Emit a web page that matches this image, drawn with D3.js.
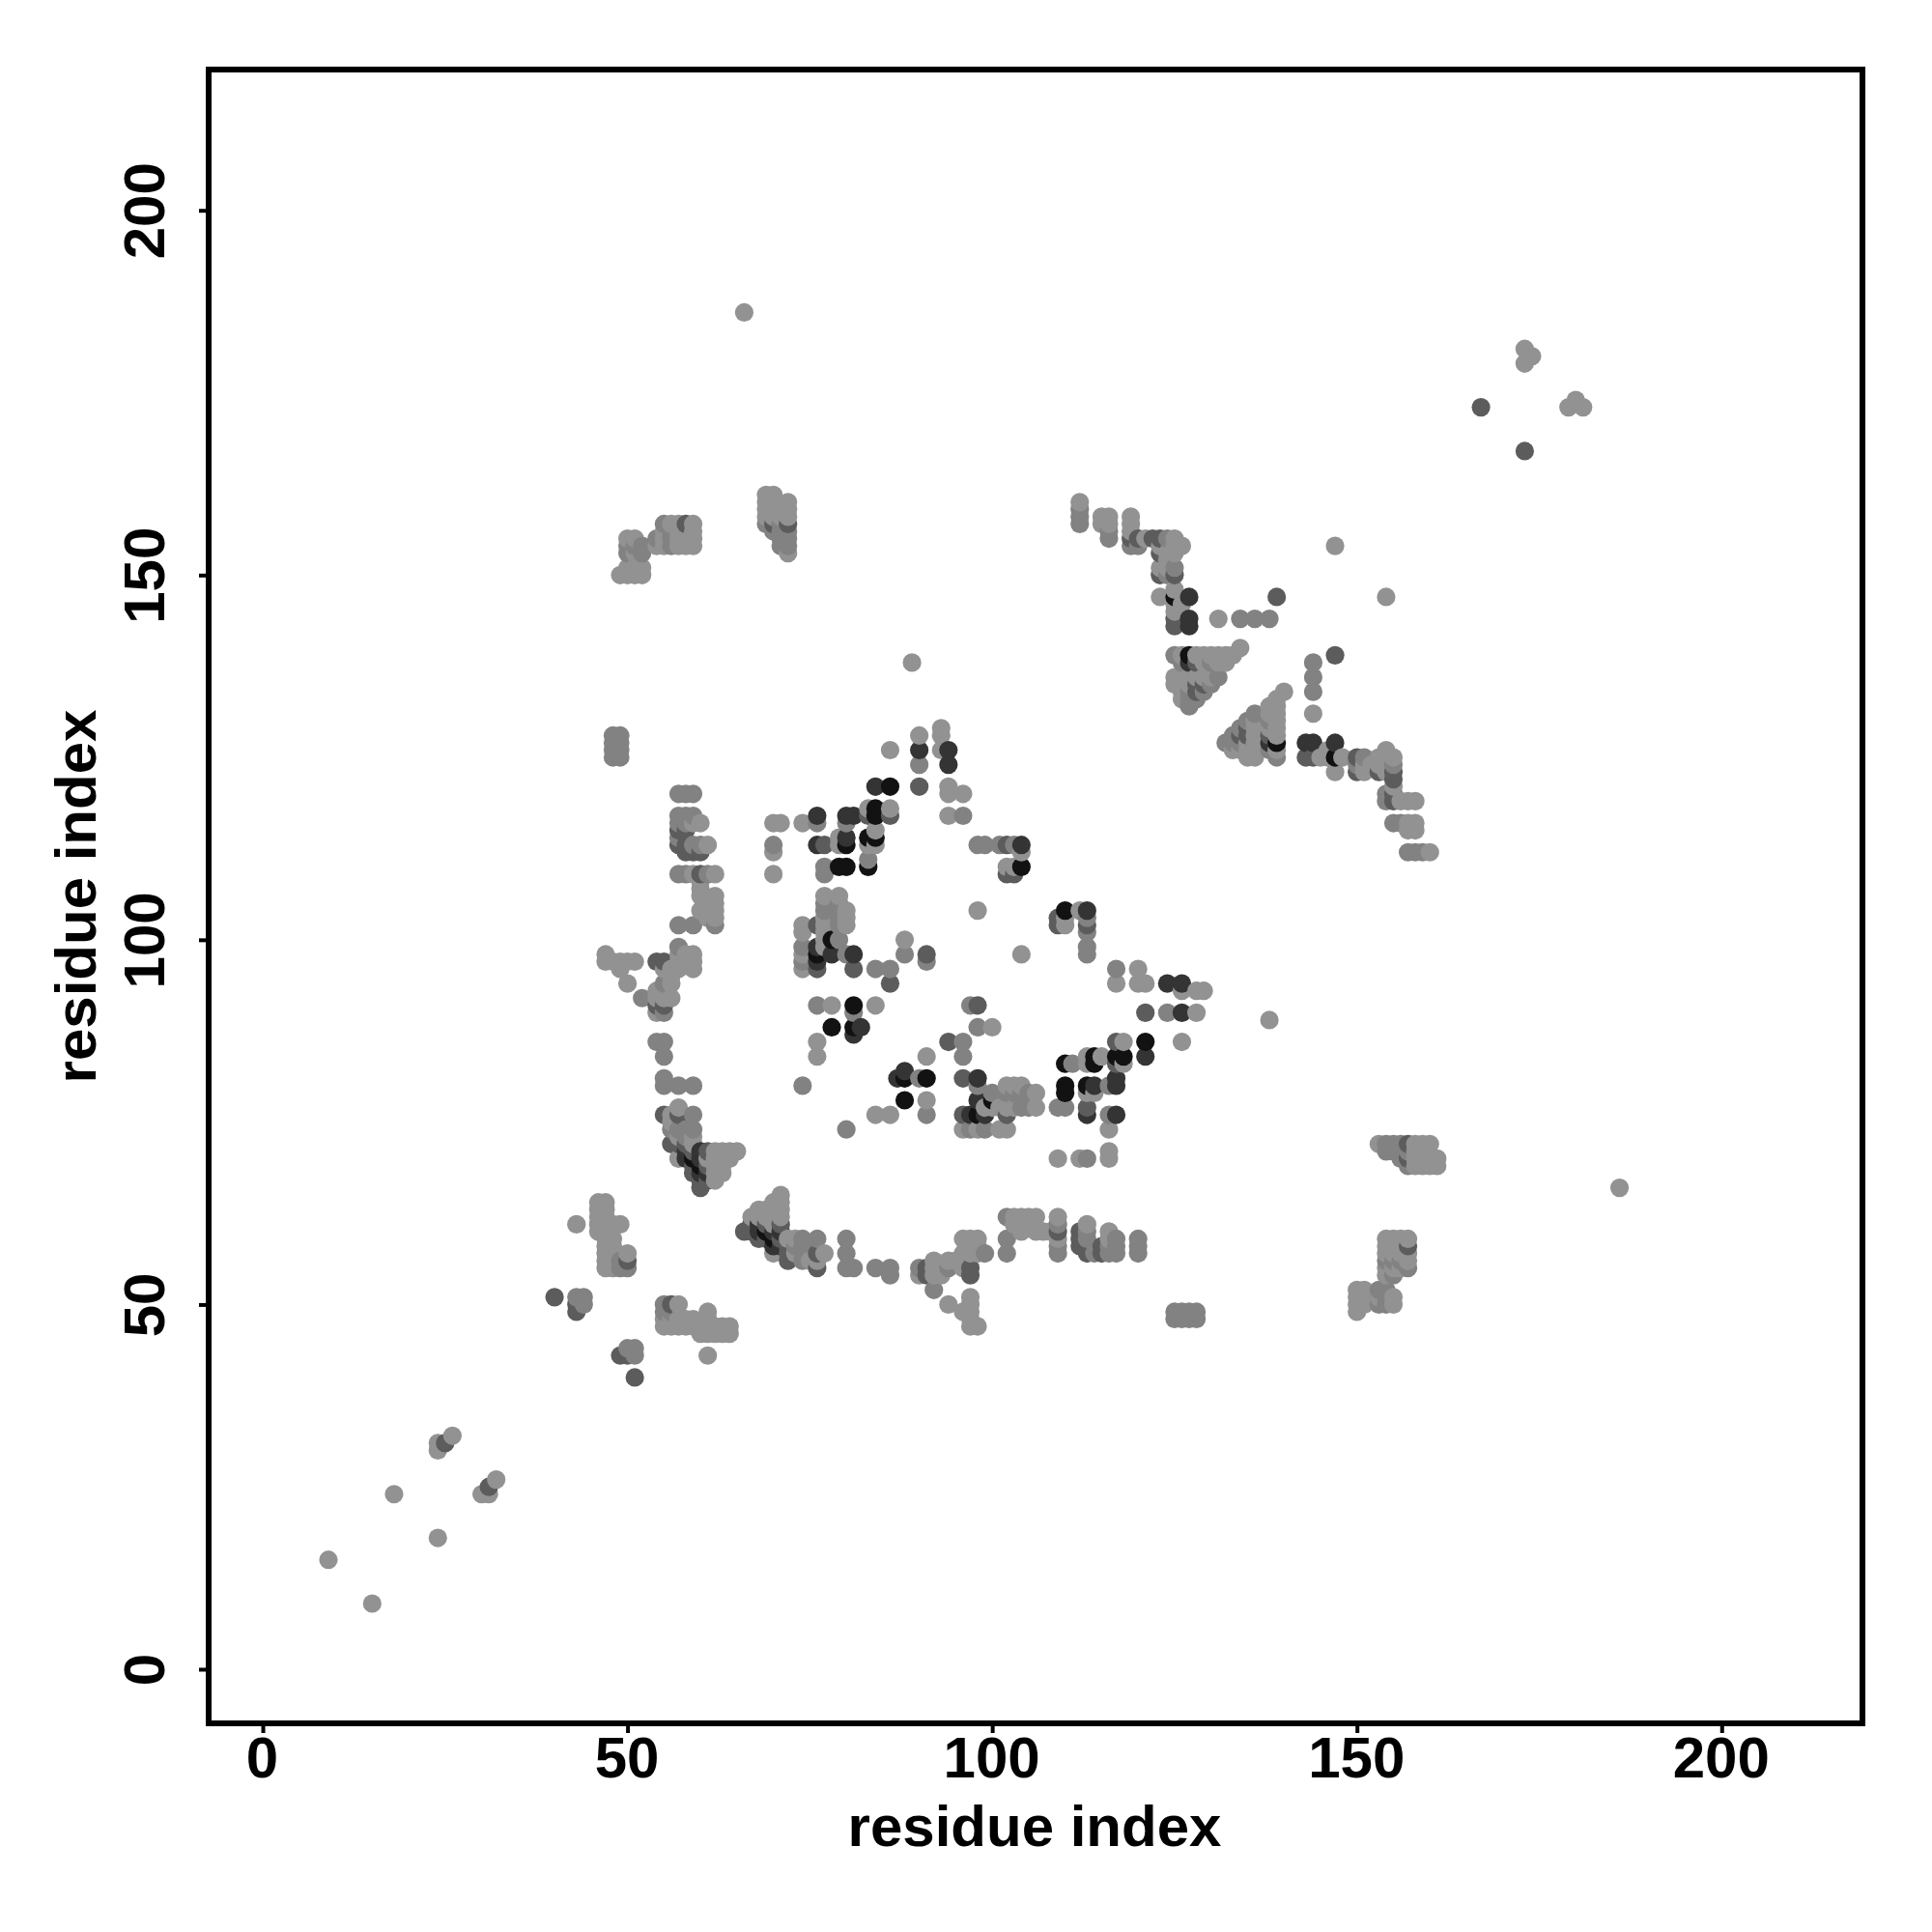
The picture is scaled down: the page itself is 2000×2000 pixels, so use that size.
<!DOCTYPE html>
<html><head><meta charset="utf-8">
<script src="https://cdn.jsdelivr.net/npm/d3@7/dist/d3.min.js"></script>
<style>html,body{margin:0;background:#fff}svg{display:block}text{font-family:"Liberation Sans",Arial,sans-serif;font-weight:bold;fill:#000}</style>
</head><body><svg id="c" width="2000" height="2000"></svg>
<script>
const tickValues=[0,50,100,150,200];
const axisTitle="residue index";
const domain=[-7.42,219.3];
const contactsBlack=[[86,121],[84,118],[84,117],[80,113],[83,114],[84,114],[83,110],[79,110],[80,110],[104,110],[81,91],[81,88],[78,88],[76,98],[78,100],[110,80],[110,79],[114,84],[114,83],[113,80],[117,84],[118,84],[121,86],[91,81],[60,69],[59,70],[125,147],[127,139],[139,127]];
const contactsVeryDark=[[84,121],[80,117],[81,117],[90,126],[94,126],[94,124],[104,113],[80,114],[78,98],[76,99],[81,98],[114,80],[117,81],[117,80],[121,84],[124,94],[126,94],[126,90],[110,83],[98,81],[98,78],[98,76],[99,76],[97,76],[113,76],[117,76],[82,88],[81,87],[88,82],[87,81],[143,127],[144,127],[147,127],[127,144],[127,143],[138,127],[60,70],[58,70],[60,71],[61,68],[60,68],[58,71]];
const contactsDark=[[76,117],[76,113],[77,113],[86,117],[83,117],[90,121],[102,113],[103,109],[102,109],[76,102],[76,96],[81,96],[86,94],[91,98],[94,86],[96,81],[117,86],[109,102],[113,102],[157,58],[72,157],[58,157],[157,70],[157,72],[123,155],[120,155],[123,150],[125,150],[127,147],[139,147],[147,139],[150,125],[150,123],[155,122],[155,120],[155,119],[143,125],[144,125],[127,138],[128,138],[128,135],[129,135],[128,134],[54,91],[55,91],[57,76],[56,72],[57,72],[58,72],[59,71],[61,71],[60,67],[61,69],[60,66],[67,61],[67,60],[68,60],[68,59],[69,59],[71,58],[76,57],[50,56],[51,40],[40,51],[43,49],[43,50],[25,31],[54,97],[55,97],[60,109],[57,115],[58,115],[57,113],[58,113],[58,112],[60,112],[59,112],[167,173],[125,143],[125,144],[55,76],[109,60],[123,153]];
const contactsMid=[[57,114],[83,111],[77,110],[77,109],[79,104],[79,105],[77,105],[77,104],[74,99],[74,97],[98,91],[98,88],[86,96],[88,98],[91,97],[74,80],[80,74],[76,91],[124,90],[117,96],[96,84],[90,81],[96,86],[98,80],[102,79],[103,79],[100,79],[109,77],[110,77],[113,77],[113,70],[116,76],[116,80],[43,51],[44,51],[44,50],[49,43],[50,43],[51,43],[50,44],[51,44],[55,50],[56,49],[55,49],[56,50],[49,55],[50,55],[113,98],[113,99],[113,101],[113,103],[112,58],[113,60],[112,60],[125,49],[125,48],[126,48],[126,49],[127,48],[127,49],[153,52],[154,52],[154,50],[153,50],[155,54],[154,56],[155,56],[156,56],[112,157],[112,158],[112,159],[116,155],[116,156],[119,155],[119,154],[120,154],[131,136],[130,135],[129,134],[138,128],[138,126],[139,125],[138,130],[133,127],[134,127],[133,128],[132,127],[144,138],[144,136],[144,134],[150,124],[151,125],[154,120],[154,119],[155,116],[155,124],[57,117],[58,117],[59,117],[57,120],[58,120],[59,120],[57,102],[59,102],[57,99],[54,86],[55,86],[55,81],[55,80],[57,80],[59,76],[56,74],[57,74],[59,74],[58,74],[48,125],[48,126],[48,127],[48,128],[49,125],[49,126],[49,127],[49,128],[69,157],[70,156],[71,156],[72,156],[72,155],[72,154],[52,153],[52,154],[51,154],[55,157],[70,59],[70,58],[73,58],[71,59],[72,58],[80,57],[74,58],[84,55],[86,54],[91,54],[92,52],[94,55],[90,55],[157,71],[155,71],[156,70],[154,71],[154,72],[155,72],[102,62],[102,59],[102,57],[109,61],[109,57],[109,58],[113,57],[113,58],[113,59],[116,58],[116,57],[117,57],[117,58],[120,57],[120,58],[120,59],[80,59],[80,55],[81,55],[86,55]];
const contactsLight=[[9,15],[18,24],[24,30],[24,31],[26,32],[43,61],[46,64],[47,64],[46,63],[47,63],[46,62],[46,61],[47,62],[47,61],[48,61],[49,61],[47,59],[47,58],[47,57],[47,56],[47,55],[48,57],[48,56],[48,55],[49,56],[50,57],[55,48],[56,48],[57,48],[58,48],[59,48],[55,47],[56,47],[57,47],[58,47],[59,47],[57,50],[61,49],[61,48],[61,47],[61,46],[60,47],[60,46],[62,46],[62,47],[63,47],[63,46],[64,47],[64,46],[61,43],
[60,66],[60,67],[61,67],[62,68],[62,69],[63,69],[62,70],[63,70],[61,70],[61,71],[62,71],[63,71],[64,71],[65,71],[66,60],[67,62],[68,63],[70,64],[71,65],[71,64],[71,63],[71,62],[70,63],[70,62],[69,62],[69,63],[69,61],[68,61],[71,60],[72,59],[72,57],[72,56],[73,59],[73,57],[74,59],[74,57],[74,56],[75,56],[76,59],[76,55],[77,57],[80,59],[84,55],[86,55],[90,54],[92,56],[92,55],[92,54],[93,55],[94,56],[95,56],[96,56],[94,50],[97,59],[98,59],[97,58],[98,58],[97,57],[98,57],[99,57],[97,51],[97,50],[97,49],[97,48],[97,47],[98,47],[103,62],[104,62],[106,62],[104,61],[104,60],[106,60],[107,60],[109,62],[109,59],[112,59],[113,61],[116,60],[116,59],[117,59],[128,49],[128,48],[150,52],[150,51],[150,50],[150,49],[151,52],[151,51],[151,50],[155,51],[155,50],[154,55],[154,57],[154,58],[154,59],[155,55],[155,57],[155,58],[155,59],[156,55],[156,57],[156,58],[156,59],[157,59],[157,57],[153,72],[156,72],[158,72],[159,72],[160,72],[158,71],[159,71],[157,69],[159,69],[160,69],[161,69],[161,70],[160,70],
[86,126],[90,128],[90,124],[93,129],[93,128],[93,126],[94,121],[94,120],[96,120],[94,117],[96,117],[86,118],[80,116],[76,116],[74,116],[70,116],[71,116],[70,113],[70,112],[70,109],[79,114],[79,113],[83,113],[84,113],[84,115],[98,113],[99,113],[101,113],[103,113],[104,112],[102,110],[103,110],[98,104],[104,98],[77,106],[79,106],[80,104],[80,103],[80,102],[77,103],[77,102],[79,103],[79,100],[74,102],[74,101],[74,96],[84,96],[88,100],[76,86],[76,84],[78,91],[84,91],[97,91],[100,88],[96,84],[91,84],[91,78],[91,76],[84,76],[86,76],[96,76],[102,80],[103,80],[104,80],[106,79],[106,77],[105,77],[104,77],[103,77],[101,77],[100,77],[99,77],[104,79],[102,76],[96,74],[97,74],[98,74],[99,74],[101,74],[102,74],[111,83],[113,84],[115,84],[113,79],[114,79],[117,83],[118,83],[118,86],[126,86],[116,74],[116,71],[116,70],[109,70],[112,70],[117,94],[120,96],[120,94],[121,94],[126,93],[128,93],[129,93],[128,90],[112,104],[110,102],[89,138],
[60,106],[62,106],[60,104],[61,104],[62,104],[62,103],[61,103],[61,105],[62,105],[60,108],[61,109],[62,109],[57,109],[58,109],[59,109],[59,113],[60,113],[61,113],[60,116],[59,98],[59,97],[59,96],[58,97],[57,97],[56,96],[57,96],[55,96],[47,98],[47,97],[48,97],[49,97],[50,97],[51,97],[49,96],[50,94],[52,92],[54,93],[55,94],[56,94],[55,92],[56,92],[54,92],[54,90],[55,90],[55,84],[56,76],[59,72],[57,70],[61,68],
[49,150],[50,150],[51,150],[52,150],[51,151],[52,151],[50,155],[51,155],[50,154],[50,153],[51,153],[54,154],[55,154],[56,154],[57,154],[58,154],[59,154],[55,156],[56,157],[57,157],[59,157],[59,156],[59,155],[58,156],[57,156],[56,156],[55,155],[56,155],[57,155],[58,155],[69,161],[70,161],[69,160],[70,160],[69,159],[70,159],[70,158],[70,157],[69,158],[72,160],[72,159],[72,158],[72,153],[71,157],[71,154],[71,155],[66,186],
[112,160],[115,158],[116,158],[115,157],[116,157],[119,158],[119,157],[119,156],[122,155],[124,155],[125,155],[123,154],[125,154],[126,154],[124,153],[125,153],[123,151],[124,151],[125,151],[123,147],[125,148],[125,146],[131,144],[134,144],[136,144],[138,144],[147,154],[125,139],[126,139],[128,139],[129,139],[130,139],[131,139],[132,139],[133,139],[134,140],[129,138],[130,138],[131,138],[132,138],[126,136],[127,136],[128,136],[129,136],[130,136],[126,135],[127,135],[126,134],[127,134],[127,133],[140,134],[139,133],[138,132],[139,132],[138,131],[139,131],[139,130],[136,130],[138,129],[139,129],[136,129],[135,129],[134,129],[134,128],[135,128],[136,128],[138,128],[139,128],[135,127],[136,127],[133,126],[134,126],[135,126],[136,126],[139,126],[135,125],[136,125],[144,131],[145,125],[146,126],[148,125],[147,123],[151,124],[152,124],[153,124],[151,123],[153,123],[154,126],[154,125],[155,125],[155,123],[155,121],[156,119],[157,119],[158,119],[157,116],[158,116],[157,115],[158,115],[157,112],[158,112],[159,112],[160,112],[173,181],[173,179],[174,180]];
const greyLevels=[18,52,92,130,146];
const contactLists=[contactsBlack,contactsVeryDark,contactsDark,contactsMid,contactsLight];

const W=216,E=1928,T=72,B=1784;
const x=d3.scaleLinear().domain(domain).range([W,E]);
const y=d3.scaleLinear().domain(domain).range([B,T]);
const svg=d3.select("#c");
svg.append("rect").attr("width",2000).attr("height",2000).attr("fill","#fff");

const seen=new Map();
contactLists.forEach((list,k)=>list.forEach(([i,j])=>{
  const key=Math.min(i,j)+"-"+Math.max(i,j);
  if(!seen.has(key)) seen.set(key,greyLevels[k]);
}));
const points=[];
seen.forEach((g,key)=>{const [i,j]=key.split("-").map(Number);points.push({a:i,b:j,g},{a:j,b:i,g});});
points.sort((p,q)=>d3.ascending(p.a,q.a)||d3.ascending(p.b,q.b));

svg.append("g").selectAll("circle").data(points).join("circle")
  .attr("cx",d=>x(d.a)).attr("cy",d=>y(d.b)).attr("r",9.6)
  .attr("fill",d=>`rgb(${d.g},${d.g},${d.g})`);

svg.append("rect").attr("x",W).attr("y",T).attr("width",E-W).attr("height",B-T)
  .attr("fill","none").attr("stroke","#000").attr("stroke-width",6);

const gx=svg.append("g").attr("transform",`translate(0,${B})`)
  .call(d3.axisBottom(x).tickValues(tickValues).tickSize(10).tickPadding(0).tickFormat(d3.format("d")));
gx.select(".domain").remove();
gx.selectAll("line").attr("stroke","#000").attr("stroke-width",4);
gx.selectAll("text").attr("y",56).attr("dy",0).attr("x",-1).style("font-size","60px").attr("text-anchor","middle");

const gy=svg.append("g").attr("transform",`translate(${W},0)`)
  .call(d3.axisLeft(y).tickValues(tickValues).tickSize(10).tickFormat(d3.format("d")));
gy.select(".domain").remove();
gy.selectAll("line").attr("stroke","#000").attr("stroke-width",4);
gy.selectAll("text").attr("x",0).attr("y",0).attr("dy",0).attr("text-anchor","middle")
  .attr("transform",`translate(${170-W},0) rotate(-90)`).style("font-size","60px");

svg.append("text").attr("x",(W+E)/2-1).attr("y",1911).attr("text-anchor","middle").style("font-size","60px").text(axisTitle);
svg.append("text").attr("transform",`translate(99,${(T+B)/2}) rotate(-90)`).attr("text-anchor","middle").style("font-size","60px").text(axisTitle);
</script></body></html>
